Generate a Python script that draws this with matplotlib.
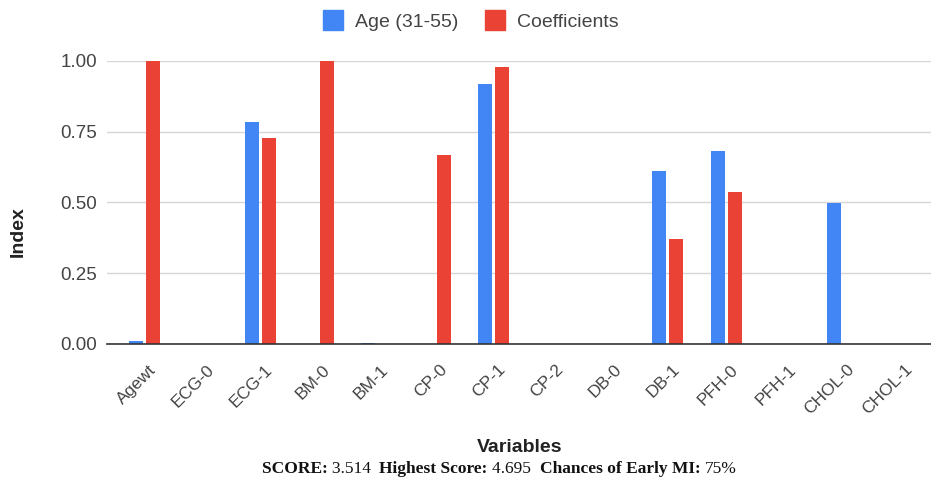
import matplotlib
matplotlib.use("Agg")
import matplotlib.pyplot as plt
import matplotlib.transforms as mtransforms
import numpy as np
from matplotlib.lines import Line2D

categories = ["Agewt", "ECG-0", "ECG-1", "BM-0", "BM-1", "CP-0", "CP-1", "CP-2",
              "DB-0", "DB-1", "PFH-0", "PFH-1", "CHOL-0", "CHOL-1"]
age_values = [0.01, 0, 0.785, 0, 0.005, 0, 0.916, 0, 0, 0.612, 0.681, 0, 0.496, 0]
coef_values = [1.0, 0, 0.728, 1.0, 0, 0.667, 0.979, 0, 0, 0.369, 0.536, 0, 0, 0]
series_names = ["Age (31-55)", "Coefficients"]
yticks = [0.0, 0.25, 0.5, 0.75, 1.0]
ytick_labels = ["0.00", "0.25", "0.50", "0.75", "1.00"]

BLUE = "#4285F4"
RED = "#EA4335"
TXT = "#444444"

plt.rcParams['font.family'] = ['Liberation Sans', 'DejaVu Sans']

W, H = 931, 483
fig = plt.figure(figsize=(W / 100, H / 100), dpi=100)
ax = fig.add_axes([107 / W, 1 - 344 / H, (931 - 107) / W, (344 - 60.7) / H])

x = np.arange(len(categories))
bw = 0.24
off = 0.146
ax.bar(x - off, age_values, width=bw, color=BLUE, zorder=3, clip_on=False)
ax.bar(x + off, coef_values, width=bw, color=RED, zorder=3, clip_on=False)

ax.set_xlim(-0.636, 13.52)
ax.set_ylim(0, 1)
ax.set_yticks(yticks)
ax.set_yticklabels(ytick_labels, fontsize=13.5, color=TXT)
ax.set_xticks(x)
ax.set_xticklabels(categories, rotation=45, ha="right", va="top",
                   rotation_mode="anchor", fontsize=12.5, color=TXT)
ax.tick_params(axis="both", length=0)
ax.tick_params(axis="x", pad=0)
ax.tick_params(axis="y", pad=7)
shift = mtransforms.ScaledTranslation(4 / 100, -18 / 100, fig.dpi_scale_trans)
for lab in ax.get_xticklabels():
    lab.set_transform(lab.get_transform() + shift)
for sp in ["top", "right", "left"]:
    ax.spines[sp].set_visible(False)
ax.spines["bottom"].set_color("#333333")
ax.spines["bottom"].set_linewidth(1.2)
ax.spines["bottom"].set_zorder(4)
ax.grid(axis="y", color="#d6d6d6", linewidth=1, zorder=0)
ax.set_axisbelow(True)

fig.text(18 / W, 1 - 232 / H, "Index", rotation=90, fontsize=14, fontweight="bold",
         color="#222222", ha="center", va="center")
fig.text(520 / W, 1 - 448 / H, "Variables", fontsize=14, fontweight="bold",
         color="#222222", ha="center", va="center")

handles = [Line2D([], [], marker="s", linestyle="none", markersize=14, color=BLUE),
           Line2D([], [], marker="s", linestyle="none", markersize=14, color=RED)]
leg = fig.legend(handles, series_names, loc="center", bbox_to_anchor=(471 / W, 1 - 22 / H),
                 ncol=2, frameon=False, fontsize=14, handletextpad=0.6, columnspacing=1.4,
                 handlelength=1.0, borderaxespad=0, borderpad=0)
for t in leg.get_texts():
    t.set_color(TXT)

# subtitle with mixed bold/normal serif parts
parts = [("SCORE: ", "bold"), ("3.514  ", "normal"), ("Highest Score: ", "bold"),
         ("4.695  ", "normal"), ("Chances of Early MI: ", "bold"), ("75%", "normal")]
texts = []
for s, w in parts:
    texts.append(fig.text(0, 1 - 473 / H, s, fontsize=12.5, fontweight=w,
                          family="Liberation Serif", color="#111111", va="baseline", ha="left"))
fig.canvas.draw()
r = fig.canvas.get_renderer()
widths = [t.get_window_extent(r).width for t in texts]
total = sum(widths)
start = 499 - total / 2
for t, wdt in zip(texts, widths):
    t.set_x(start / W)
    start += wdt

fig.savefig("out.png", dpi=100)
